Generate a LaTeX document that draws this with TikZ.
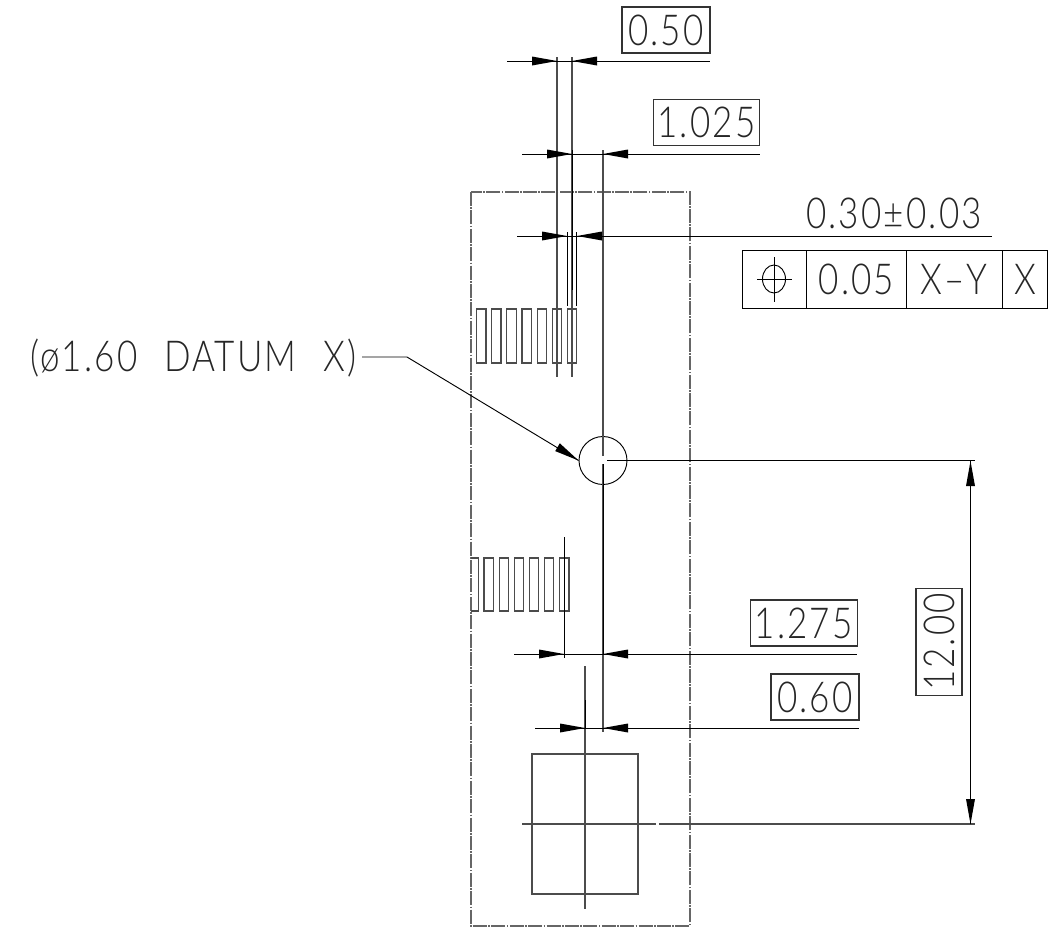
\documentclass[tikz,border=0pt]{standalone}
\usepackage{fontspec}
\setmainfont{Lato Light}[LetterSpace=5,FakeStretch=0.82]
\tikzset{
  lbl/.style={inner sep=0pt, font=\fontsize{32}{32}\selectfont, text=black!85},
  dimline/.style={line width=0.7pt},
  tip/.style={fill=black, draw=none},
  centerline/.style={line width=0.9pt, black!70},
  boundary/.style={line width=0.95pt, black!60, dash pattern=on 10.5pt off 1.1pt on 1.1pt off 1.1pt},
  valbox/.style={lbl, draw=black!80, line width=0.8pt, minimum height=34.5pt}
}
\newcommand\TipR[2]{\fill[tip] (#1,#2) -- ++(-25,4.5) -- ++(0,-9) -- cycle;}
\newcommand\TipL[2]{\fill[tip] (#1,#2) -- ++(25,4.5) -- ++(0,-9) -- cycle;}
\begin{document}
\begin{tikzpicture}[x=0.75pt,y=-0.75pt]
\useasboundingbox (0,0) rectangle (1057,939);

% outline and pad
\draw[boundary] (471,192) rectangle (690,926);
\draw[centerline] (532,754) rectangle (638,894);
\draw[centerline] (585,666) -- (585,909);
\draw[dimline] (585,700) -- (585,728);
\draw[centerline] (522,824) -- (656,824);
\draw[centerline] (659,824) -- (975,824);

% datum circle
\node[circle, draw, line width=0.7pt, minimum size=36pt, inner sep=0pt] (hole) at (603,460.5) {};
\draw[centerline] (603,150) -- (603,456);
\draw[centerline] (603,464) -- (603,732);
\draw[dimline] (603,464) -- (603,654);
\draw[dimline] (607,460.5) -- (975,460.5);

% pads
\foreach \i in {0,...,6}
  \draw[centerline] (476.5+15.15*\i,309) rectangle +(9.4,54);
\foreach \i in {1,...,6}
  \draw[centerline] (469+15.05*\i,558) rectangle +(9.6,53);
\draw[centerline] (471,558) -- (478.5,558) -- (478.5,611) -- (471,611);

% extension lines
\draw[centerline] (557,57) -- (557,377);
\draw[centerline] (572,57) -- (572,377);
\draw[dimline] (572,150) -- (572,290);
\draw[dimline] (567.3,232) -- (567.3,306);
\draw[dimline] (576.7,232) -- (576.7,306);
\draw[dimline] (564.3,537) -- (564.3,658);

% dimensions
\draw[dimline] (507,61) -- (710,61);
\TipR{557}{61} \TipL{572}{61}
\draw[dimline] (522,154) -- (760,154);
\TipR{572}{154} \TipL{603}{154}
\draw[dimline] (517,236) -- (992,236);
\TipR{567}{236} \TipL{577}{236}
\draw[dimline] (514,654) -- (857,654);
\TipR{564}{654} \TipL{603}{654}
\draw[dimline] (535,728) -- (859,728);
\TipR{585}{728} \TipL{603}{728}
\draw[dimline] (970.5,461) -- (970.5,824);
\fill[tip] (970.5,461) -- ++(-4.5,25) -- ++(9,0) -- cycle;
\fill[tip] (970.5,824) -- ++(-4.5,-25) -- ++(9,0) -- cycle;

% boxed values
\node[valbox, minimum width=66pt] (a) at (666,30) {0.50};
\node[valbox, minimum width=80pt] (b) at (706.5,122.5) {1.025};
\node[lbl] (c) at (894,213.5) {0.30±0.03};
\node[valbox, minimum width=80pt] (d) at (803.7,623) {1.275};
\node[valbox, minimum width=66pt] (e) at (815,697) {0.60};
\node[valbox, minimum width=80pt, rotate=90] (f) at (939,642) {12.00};

% control frame
\draw[dimline] (742.5,250) rectangle (1047.5,308);
\foreach \x in {806.5,906.5,1002.5}
  \draw[dimline] (\x,250) -- (\x,308);
\draw[dimline] (774,279) ellipse (11.5 and 14);
\draw[dimline] (757,279) -- (792,279) (774,257) -- (774,302);
\node[lbl] (g) at (856.5,279) {0.05};
\node[lbl] (h) at (954,279) {X–Y};
\node[lbl] (i) at (1025,279) {X};

% leader
\node[lbl, anchor=west] (datum) at (30,358) {(ø1.60\hspace{20pt}DATUM\hspace{20pt}X)};
\draw[dimline] (362,357) -- (407,357) -- (hole.west);
\fill[tip] (hole.west) -- (555.2,451.1) -- (559.8,443.3) -- cycle;
\end{tikzpicture}
\end{document}
